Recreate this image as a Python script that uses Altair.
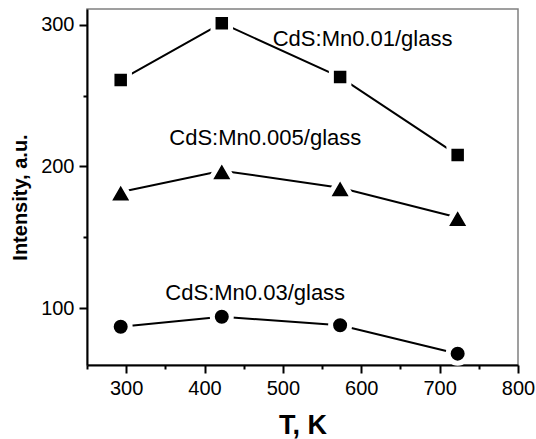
import altair as alt
import pandas as pd

temps = [293, 422, 573, 723]
series_names = ["CdS:Mn0.01/glass", "CdS:Mn0.005/glass", "CdS:Mn0.03/glass"]
int_mn001 = [261, 301, 263, 208]
int_mn0005 = [182, 197, 185, 164]
int_mn003 = [87, 94, 88, 68]
shapes = ["square", "triangle-up", "circle"]
sizes = [306, 660, 361]

label_x = [487, 355, 350]
label_y = [285, 215, 106]

x_major = [300, 400, 500, 600, 700, 800]
x_minor = [250, 350, 450, 550, 650, 750]
y_major = [100, 200, 300]
y_minor = [150, 250]

rows = []
for name, vals in zip(series_names, [int_mn001, int_mn0005, int_mn003]):
    for t, v in zip(temps, vals):
        rows.append({"series": name, "T": t, "I": v})
df = pd.DataFrame(rows)
labels_df = pd.DataFrame({"series": series_names, "x": label_x, "y": label_y})

FONT = "Liberation Sans"

xscale = alt.Scale(domain=[250, 800], nice=False, zero=False)
yscale = alt.Scale(domain=[60, 311], nice=False, zero=False)

common = dict(
    titleFont=FONT, titleFontWeight="bold", titleBaseline="alphabetic",
    labelFont=FONT, labelFontSize=20, labelPadding=5, labelColor="black",
    domainColor="black", domainWidth=2, tickColor="black", tickWidth=2,
    tickSize=8, grid=False, titleColor="black", labelFlush=False, labelOverlap=False,
)
x_axis = alt.Axis(values=x_major, orient="bottom", title="T, K", titleFontSize=27,
                  titleY=68, **common)
y_axis = alt.Axis(values=y_major, orient="left", title="Intensity, a.u.", titleFontSize=20,
                  titleX=-61, titleY=188, **common)
minor = dict(labels=False, domain=False, tickSize=4, tickWidth=2, tickColor="black",
             grid=False, title=None)
x_axis_minor = alt.Axis(values=x_minor, orient="bottom", **minor)
y_axis_minor = alt.Axis(values=y_minor, orient="left", **minor)

base = alt.Chart(df)
layers = [
    base.mark_line(color="black", strokeWidth=2).encode(
        x=alt.X("T:Q", scale=xscale, axis=x_axis),
        y=alt.Y("I:Q", scale=yscale, axis=y_axis),
        detail="series:N",
    )
]
for name, shp, sz in zip(series_names, shapes, sizes):
    layers.append(
        base.transform_filter(alt.datum.series == name)
        .mark_point(filled=True, fill="black", stroke="white", strokeWidth=5,
                    opacity=1, shape=shp, size=sz)
        .encode(x=alt.X("T:Q", scale=xscale, axis=None),
                y=alt.Y("I:Q", scale=yscale, axis=None))
    )
layers.append(
    alt.Chart(labels_df).mark_text(
        align="left", baseline="alphabetic", font=FONT, fontSize=22, color="black"
    ).encode(
        x=alt.X("x:Q", scale=xscale, axis=x_axis_minor),
        y=alt.Y("y:Q", scale=yscale, axis=y_axis_minor),
        text="series:N",
    )
)

chart = alt.layer(*layers).resolve_axis(x="independent", y="independent").properties(
    width=431, height=356,
    autosize=alt.AutoSizeParams(type="none"),
    padding={"left": 87, "top": 9, "right": 18, "bottom": 74},
    background="white",
).configure_view(stroke="#808080", strokeWidth=1.5)

chart.save("out.html", embed_options={"renderer": "svg", "actions": False})
